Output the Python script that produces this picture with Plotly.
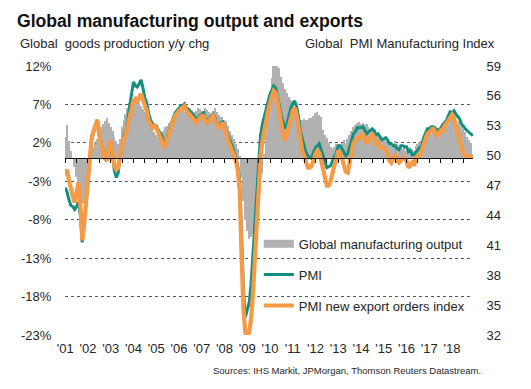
import pandas as pd
import plotly.graph_objects as go

# ---------------- data ----------------
months = pd.date_range("2001-01-01", "2018-12-01", freq="MS")
output_months = months[:-1]  # output data to Nov 2018

# Global manufacturing output, % y/y (left axis)
output_yy = [
    2.8, 4.3, 2.3, 1.0, 0.0, -1.2, -2.5, -3.5, -4.5, -5.8, -6.0, -5.5,      # 2001
    -3.5, -1.5, 0.5, 1.5, 2.0, 2.5, 3.6, 4.0, 4.5, 4.9, 5.2, 4.6,           # 2002
    4.1, 3.5, 2.8, 2.3, 1.9, 2.5, 4.0, 5.0, 5.8, 6.5, 7.2, 7.0,             # 2003
    7.4, 7.0, 7.6, 7.2, 6.8, 6.4, 6.0, 5.5, 4.8, 4.2, 3.8, 3.4,             # 2004
    3.0, 2.8, 3.2, 3.0, 3.5, 4.0, 4.2, 4.6, 4.8, 5.0, 5.4, 5.8,             # 2005
    6.0, 6.2, 6.5, 6.0, 6.3, 6.7, 6.5, 6.3, 6.0, 6.2, 6.5, 6.4,             # 2006
    6.2, 6.0, 6.5, 6.3, 6.0, 5.8, 6.2, 6.6, 6.0, 5.6, 5.4, 5.3,             # 2007
    5.0, 4.8, 4.2, 3.6, 3.0, 2.5, 1.8, 1.2, 0.3, -2.5, -5.5, -8.0,          # 2008
    -9.5, -10.5, -10.2, -9.8, -9.0, -8.0, -6.5, -4.5, -2.0, 0.5, 3.5, 6.5,  # 2009
    8.5, 10.5, 12.2, 13.2, 12.6, 11.8, 10.6, 9.8, 9.0, 8.5, 8.0, 7.6,       # 2010
    7.0, 6.3, 5.6, 5.3, 5.0, 5.0, 5.1, 5.0, 5.0, 5.2, 5.2, 5.5,             # 2011
    5.9, 6.0, 5.6, 5.4, 3.7, 3.0, 2.6, 2.0, 1.5, 1.2, 1.5, 1.8,             # 2012
    1.8, 1.5, 2.0, 2.4, 2.0, 2.5, 3.0, 3.5, 4.0, 4.3, 4.6, 4.7,             # 2013
    4.5, 4.6, 4.3, 4.4, 4.0, 3.6, 3.8, 3.4, 3.0, 3.3, 2.8, 2.6,             # 2014
    2.4, 2.2, 2.0, 1.8, 1.6, 1.9, 2.2, 1.8, 1.5, 1.6, 1.2, 1.4,             # 2015
    1.0, 1.3, 1.5, 1.2, 0.9, 1.6, 1.8, 2.0, 2.2, 2.5, 2.8, 2.6,             # 2016
    3.0, 3.2, 3.6, 3.3, 3.5, 3.8, 4.0, 3.7, 4.1, 4.0, 4.3, 4.8,             # 2017
    5.2, 5.0, 4.6, 4.4, 4.8, 4.2, 3.8, 3.4, 2.8, 2.4, 2.0,                  # 2018
]

# Global manufacturing PMI (right axis)
pmi = [
    46.8, 46.3, 45.6, 45.0, 44.9, 44.6, 44.9, 45.3, 44.0, 41.3, 43.0, 45.0,  # 2001
    47.5, 49.5, 51.5, 52.3, 53.0, 53.5, 52.0, 51.2, 50.6, 49.8, 49.5, 50.8,  # 2002
    51.3, 50.0, 48.5, 47.8, 48.3, 50.0, 51.2, 52.0, 52.5, 53.5, 55.0, 56.3,  # 2003
    57.4, 57.0, 56.9, 57.2, 57.6, 56.8, 55.8, 55.3, 54.2, 53.6, 53.2, 53.1,  # 2004
    53.0, 52.6, 52.3, 52.0, 51.2, 51.4, 52.0, 52.7, 53.3, 53.8, 54.3, 54.5,  # 2005
    54.8, 55.0, 55.0, 55.2, 54.8, 54.6, 54.4, 54.2, 54.0, 53.7, 53.7, 54.0,  # 2006
    54.2, 54.3, 53.8, 53.5, 53.7, 54.0, 54.2, 53.8, 53.2, 53.0, 53.3, 53.4,  # 2007
    53.0, 52.4, 52.0, 51.4, 51.0, 50.4, 49.8, 49.0, 47.5, 41.5, 36.5, 33.8,  # 2008
    34.6, 35.3, 37.0, 40.3, 43.0, 46.5, 49.5, 52.0, 53.2, 54.0, 54.5, 55.5,  # 2009
    56.2, 56.6, 57.0, 56.8, 56.0, 55.0, 54.0, 53.2, 52.7, 53.2, 54.0, 54.8,  # 2010
    55.2, 55.5, 55.0, 54.0, 52.5, 51.7, 51.0, 50.3, 50.0, 49.8, 49.7, 50.4,  # 2011
    50.8, 51.0, 51.2, 50.6, 50.0, 49.3, 48.8, 48.9, 49.0, 49.5, 49.9, 50.3,  # 2012
    51.0, 51.0, 50.7, 50.3, 50.0, 50.2, 50.8, 51.5, 52.2, 52.4, 52.8, 52.8,  # 2013
    52.8, 52.9, 52.5, 52.2, 52.4, 52.6, 52.7, 52.5, 52.1, 52.2, 51.9, 51.6,  # 2014
    51.7, 51.8, 51.6, 51.2, 51.2, 51.0, 51.0, 50.7, 50.6, 51.0, 51.0, 50.9,  # 2015
    50.9, 50.4, 50.5, 50.1, 50.1, 50.4, 50.6, 50.8, 51.0, 51.8, 52.2, 52.7,  # 2016
    52.7, 52.9, 52.9, 52.8, 52.6, 52.6, 52.7, 53.1, 53.3, 53.5, 54.0, 54.4,  # 2017
    54.3, 54.5, 54.2, 54.0, 53.7, 53.2, 52.9, 52.7, 52.5, 52.3, 52.1, 52.0,  # 2018
]

# PMI new export orders index (right axis)
export_orders = [
    48.0, 48.6, 47.5, 46.5, 46.0, 45.3, 46.5, 47.3, 45.0, 41.5, 43.2, 45.5,  # 2001
    48.0, 50.0, 51.8, 52.5, 53.2, 53.6, 52.0, 51.0, 50.2, 49.7, 49.5, 51.0,  # 2002
    51.5, 50.3, 49.0, 48.6, 48.8, 50.0, 51.0, 51.7, 52.2, 53.0, 54.0, 54.8,  # 2003
    55.5, 55.7, 55.3, 55.8, 56.2, 55.6, 55.0, 54.5, 53.5, 53.2, 52.8, 53.0,  # 2004
    52.8, 52.3, 52.0, 51.5, 50.8, 51.0, 51.8, 52.5, 53.0, 53.5, 54.0, 54.3,  # 2005
    54.5, 54.7, 54.8, 55.0, 54.5, 54.3, 54.0, 53.8, 53.6, 53.3, 53.5, 53.8,  # 2006
    54.0, 54.0, 53.5, 53.3, 53.5, 53.8, 54.0, 53.5, 53.0, 52.8, 53.0, 53.3,  # 2007
    52.8, 52.0, 51.5, 51.0, 50.5, 50.0, 49.5, 48.5, 46.5, 40.0, 34.5, 32.2,  # 2008
    31.8, 32.3, 33.5, 36.0, 39.5, 43.5, 47.0, 49.8, 51.5, 52.8, 53.5, 54.5,  # 2009
    55.5, 56.0, 56.5, 56.3, 55.5, 54.3, 53.0, 52.0, 51.5, 52.3, 53.3, 54.0,  # 2010
    54.5, 54.8, 54.2, 53.0, 51.5, 50.5, 50.0, 49.3, 48.8, 48.8, 49.0, 49.5,  # 2011
    50.2, 50.5, 50.3, 49.5, 48.5, 47.5, 47.0, 47.0, 47.5, 48.3, 49.0, 49.8,  # 2012
    50.5, 50.3, 49.8, 49.0, 48.4, 48.3, 49.3, 50.5, 51.3, 51.5, 51.8, 51.8,  # 2013
    51.8, 52.2, 51.6, 51.2, 51.5, 51.8, 52.2, 51.8, 51.2, 51.3, 50.8, 50.8,  # 2014
    50.8, 50.5, 50.3, 49.5, 49.3, 49.8, 50.0, 49.5, 49.3, 49.5, 49.8, 49.7,  # 2015
    49.5, 48.8, 49.0, 49.3, 49.0, 49.8, 50.0, 50.0, 50.5, 51.3, 51.7, 52.2,  # 2016
    52.3, 52.5, 52.8, 52.4, 52.0, 52.2, 52.5, 52.3, 53.0, 53.2, 53.6, 53.8,  # 2017
    54.1, 53.8, 53.0, 52.3, 51.5, 50.7, 50.2, 50.0, 49.9, 49.9, 49.9, 49.8,  # 2018
]

year_ticks = [f"{y}-01-01" for y in range(2001, 2019)]
year_labels = [f"'{y % 100:02d}" for y in range(2001, 2019)]
left_ticks = [12, 7, 2, -3, -8, -13, -18, -23]
right_ticks = [59, 56, 53, 50, 47, 44, 41, 38, 35, 32]

# ---------------- style ----------------
FONT = "Liberation Sans, Arial, sans-serif"
GRAY = "#b1b1b1"
TEAL = "#12907f"
ORANGE = "#f79a46"
TXT = "#262626"
XRANGE = ["2000-12-28", "2018-12-03"]

# the page body has an 8px margin, so the figure starts at (8, 8) on the page
OFF = 8
W, H = 531 - OFF, 389 - OFF
ML, MR, MT, MB = 65 - OFF, 531 - 473, 66 - OFF, 389 - 335

fig = go.Figure()

fig.add_trace(go.Bar(
    x=output_months, y=output_yy, name="Global manufacturing output",
    marker=dict(color=GRAY, line=dict(width=0)), showlegend=False,
    xaxis="x", yaxis="y",
))
fig.add_trace(go.Scatter(
    x=months, y=pmi, name="PMI", mode="lines",
    line=dict(color=TEAL, width=3), xaxis="x", yaxis="y2",
    legendgroup="b", legendrank=2,
))
fig.add_trace(go.Scatter(
    x=months, y=export_orders, name="PMI new export orders index", mode="lines",
    line=dict(color=ORANGE, width=4.2), xaxis="x", yaxis="y2",
    legendgroup="c", legendrank=3,
))
# legend entry for bars (wide grey swatch like the original)
fig.add_trace(go.Scatter(
    x=[None], y=[None], name="Global manufacturing output", mode="lines",
    line=dict(color=GRAY, width=8), xaxis="x2", yaxis="y",
    legendgroup="a", legendrank=1,
))

fig.update_layout(
    width=W, height=H,
    margin=dict(l=ML, r=MR, t=MT, b=MB, pad=0),
    paper_bgcolor="white", plot_bgcolor="white",
    font=dict(family=FONT, size=13, color=TXT),
    bargap=0,
    title=dict(text="<b>Global manufacturing output and exports</b>",
               x=(17 - OFF) / W, xanchor="left", y=1 - (21 - OFF) / H, yanchor="middle",
               font=dict(size=17.6, color="#111111", family=FONT)),
    xaxis=dict(
        type="date", range=XRANGE, tickmode="array",
        tickvals=year_ticks, ticktext=year_labels,
        showgrid=False, showline=False, zeroline=False,
        ticks="outside", ticklen=1, tickcolor="rgba(0,0,0,0)",
        tickfont=dict(size=13, color=TXT), anchor="y",
    ),
    xaxis2=dict(
        type="date", range=XRANGE, overlaying="x", anchor="free",
        position=23 / 35, side="bottom",
        showline=True, linecolor="#111111", linewidth=1,
        ticks="outside", ticklen=4, tickcolor="#111111", tickwidth=1,
        dtick="M6", tick0="2001-01-01", showticklabels=False,
        showgrid=False, zeroline=False,
    ),
    yaxis=dict(
        range=[-23, 12], tickmode="array", tickvals=left_ticks,
        ticktext=[f"{v}%" for v in left_ticks],
        showgrid=True, gridcolor="#555555", griddash="dot", gridwidth=1,
        zeroline=False, showline=False,
        ticks="outside", ticklen=10, tickcolor="rgba(0,0,0,0)",
        tickfont=dict(size=13, color=TXT),
    ),
    yaxis2=dict(
        range=[32, 59], tickmode="array", tickvals=right_ticks,
        overlaying="y", side="right", anchor="x",
        showgrid=False, zeroline=False, showline=False,
        ticks="outside", ticklen=10, tickcolor="rgba(0,0,0,0)",
        tickfont=dict(size=13, color=TXT),
    ),
    legend=dict(
        x=0.475, y=0.395, xanchor="left", yanchor="top",
        bgcolor="rgba(0,0,0,0)", font=dict(size=13, color=TXT),
        traceorder="grouped", tracegroupgap=11,
    ),
)

# text annotations placed by pixel position (reference page coordinates)
pw, ph = W - ML - MR, H - MT - MB
texts = [
    ("Global  goods production y/y chg", 18, 43, "left", 13),
    ("Global  PMI Manufacturing Index", 497, 43, "right", 13),
    ("Sources: IHS Markit, JPMorgan, Thomson Reuters Datastream.", 483, 370, "right", 9.5),
]
anns = []
for text, px, py, anchor, size in texts:
    anns.append(dict(
        text=text, showarrow=False, xref="paper", yref="paper",
        x=(px - OFF - ML) / pw, y=(H - MB - (py - OFF)) / ph,
        xanchor=anchor, yanchor="middle",
        font=dict(size=size, color=TXT, family=FONT),
    ))
fig.update_layout(annotations=anns)

fig.write_html("out.html")
